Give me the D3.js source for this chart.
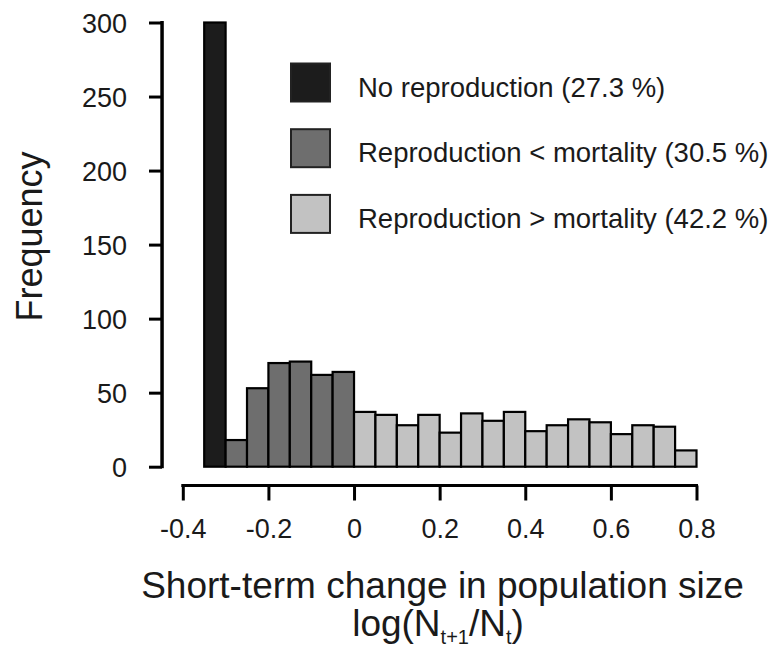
<!DOCTYPE html>
<html><head><meta charset="utf-8">
<script src="https://cdn.jsdelivr.net/npm/d3@7"></script>
<style>body{margin:0;background:#fff}svg{display:block}text{font-family:"Liberation Sans",Arial,sans-serif;fill:#1a1a1a}</style>
</head><body>
<svg id="c" width="777" height="652"></svg>
<script>
const binStarts = [-0.35,-0.30,-0.25,-0.20,-0.15,-0.10,-0.05,0.00,0.05,0.10,0.15,0.20,0.25,0.30,0.35,0.40,0.45,0.50,0.55,0.60,0.65,0.70,0.75];
const counts    = [300,18,53,70,71,62,64,37,35,28,35,23,36,31,37,24,28,32,30,22,28,27,11];
const groups    = [0,1,1,1,1,1,1,2,2,2,2,2,2,2,2,2,2,2,2,2,2,2,2];
const binWidth = 0.05;
const legendLabels = ["No reproduction (27.3 %)","Reproduction < mortality (30.5 %)","Reproduction > mortality (42.2 %)"];
const fills = ["#1c1c1c","#6e6e6e","#c2c2c2"];
const xTicks = [-0.4,-0.2,0,0.2,0.4,0.6,0.8];
const yTicks = [0,50,100,150,200,250,300];

const svg = d3.select("#c");
const x = d3.scaleLinear().domain([-0.4,0.8]).range([182.8,696.5]);
const y = d3.scaleLinear().domain([0,300]).range([466.7,22.5]);

svg.append("g").selectAll("rect").data(binStarts).join("rect")
  .attr("x",(d)=>x(d)).attr("width",(d)=>x(d+binWidth)-x(d))
  .attr("y",(d,i)=>y(counts[i])).attr("height",(d,i)=>y(0)-y(counts[i]))
  .attr("fill",(d,i)=>fills[groups[i]]).attr("stroke","#000").attr("stroke-width",2.2);

const fmt = d=> d===0?"0":d3.format(".1f")(d).replace("\u2212","-");
const xa = svg.append("g").attr("transform","translate(0,485.5)")
  .call(d3.axisBottom(x).tickValues(xTicks).tickFormat(fmt).tickSize(15).tickSizeOuter(0));
const ya = svg.append("g").attr("transform","translate(162,0)")
  .call(d3.axisLeft(y).tickValues(yTicks).tickSize(13).tickSizeOuter(0));
[xa,ya].forEach(a=>{a.select(".domain").remove();
  a.selectAll(".tick line").attr("stroke","#000").attr("stroke-width",3);
  a.selectAll("text").style("font-size","27px").attr("fill","#1a1a1a");});
svg.append("rect").attr("x",x(-0.4)-1.5).attr("width",x(0.8)-x(-0.4)+3).attr("y",484).attr("height",3).attr("fill","#000");
svg.append("rect").attr("x",160.3).attr("width",3.5).attr("y",y(300)-1.5).attr("height",y(0)-y(300)+3).attr("fill","#000");
xa.selectAll("text").attr("dy",0).attr("y",52);
ya.selectAll("text").attr("x",-35).attr("dy","0.36em");

svg.append("text").attr("transform","translate(42,236.5) rotate(-90)").attr("text-anchor","middle")
  .style("font-size","36px").text("Frequency");
svg.append("text").attr("x",442.5).attr("y",598).attr("text-anchor","middle").style("font-size","37px")
  .text("Short-term change in population size");
const t2 = svg.append("text").attr("x",438).attr("y",636).attr("text-anchor","middle").style("font-size","37px");
t2.append("tspan").text("log(N");
t2.append("tspan").attr("dy",8).style("font-size","20px").text("t+1");
t2.append("tspan").attr("dy",-8).text("/N");
t2.append("tspan").attr("dy",8).style("font-size","20px").text("t");
t2.append("tspan").attr("dy",-8).text(")");

const lg = svg.append("g").selectAll("g").data(legendLabels).join("g")
  .attr("transform",(d,i)=>`translate(291,${63.5+i*65.7})`);
lg.append("rect").attr("width",39).attr("height",38).attr("fill",(d,i)=>fills[i]).attr("stroke","#222").attr("stroke-width",2);
lg.append("text").attr("x",67).attr("y",33).style("font-size","27.5px").text(d=>d);
</script>
</body></html>
